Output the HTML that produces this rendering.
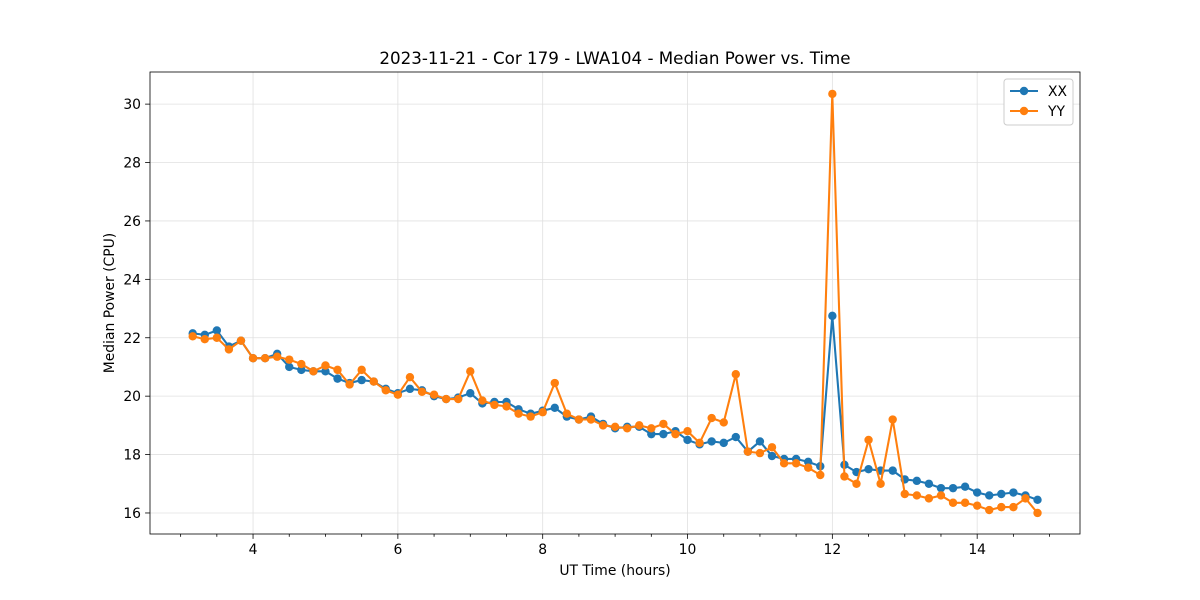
<!DOCTYPE html>
<html><head><meta charset="utf-8"><style>body{margin:0;background:#fff}svg{display:block;font-family:"DejaVu Sans","Liberation Sans",sans-serif}</style></head>
<body>
<svg id="chart" width="1200" height="600"></svg>
<script>
const times = [];
const XX = [22.15,22.1,22.25,21.7,21.9,21.3,21.3,21.45,21.0,20.9,20.85,20.85,20.6,20.45,20.55,20.5,20.25,20.1,20.25,20.2,20.0,19.9,19.95,20.1,19.75,19.8,19.8,19.55,19.4,19.5,19.6,19.3,19.2,19.3,19.05,18.9,18.95,18.95,18.7,18.7,18.8,18.5,18.35,18.45,18.4,18.6,18.1,18.45,17.95,17.85,17.85,17.75,17.6,22.75,17.65,17.4,17.5,17.45,17.45,17.15,17.1,17.0,16.85,16.85,16.9,16.7,16.6,16.65,16.7,16.6,16.45];
const YY = [22.05,21.95,22.0,21.6,21.9,21.3,21.3,21.35,21.25,21.1,20.85,21.05,20.9,20.4,20.9,20.5,20.2,20.05,20.65,20.15,20.05,19.9,19.9,20.85,19.85,19.7,19.65,19.4,19.3,19.45,20.45,19.4,19.2,19.2,19.0,18.95,18.9,19.0,18.9,19.05,18.7,18.8,18.4,19.25,19.1,20.75,18.1,18.05,18.25,17.7,17.7,17.55,17.3,30.35,17.25,17.0,18.5,17.0,19.2,16.65,16.6,16.5,16.6,16.35,16.35,16.25,16.1,16.2,16.2,16.5,16.0];
for (let i = 0; i < XX.length; i++) times.push(3.1667 + i / 6);
const xTicks = [4,6,8,10,12,14];
const yTicks = [16,18,20,22,24,26,28,30];

const L=150,R=1080,T=72,B=534;
const x0=2.577,x1=15.42,y0=15.28,y1=31.1;
const sx=v=>L+(v-x0)/(x1-x0)*(R-L);
const sy=v=>B-(v-y0)/(y1-y0)*(B-T);
const svg=document.getElementById('chart');
const NS='http://www.w3.org/2000/svg';
function mk(tag,attrs,parent){const e=document.createElementNS(NS,tag);for(const k in attrs)e.setAttribute(k,attrs[k]);(parent||svg).appendChild(e);return e;}

for(const t of xTicks){
  const g=mk('line',{x1:sx(t),x2:sx(t),y1:T,y2:B,stroke:'#e0e0e0','stroke-width':0.8});
  
  
}
for(const t of yTicks){
  const g=mk('line',{x1:L,x2:R,y1:sy(t),y2:sy(t),stroke:'#e0e0e0','stroke-width':0.8});
  
  
}
for(let m=3;m<=15;m+=0.5){
  const maj=xTicks.includes(m);
  const tk=mk('line',{x1:sx(m),x2:sx(m),y1:B,y2:B+(maj?4.9:2.8),stroke:'#000','stroke-width':0.8});
  
  
}
for(const t of xTicks){
  const tx=mk('text',{x:sx(t),y:B+20,'text-anchor':'middle','font-size':13.9});
  tx.textContent=t;
  
  
}
for(const t of yTicks){
  const tk=mk('line',{x1:L-4.9,x2:L,y1:sy(t),y2:sy(t),stroke:'#000','stroke-width':0.8});
  
  
  const tx=mk('text',{x:L-9,y:sy(t)+5,'text-anchor':'end','font-size':13.9});
  tx.textContent=t;
  
  
}
function series(vals,color,name){
  const g=mk('g',{});
  
  
  const pts=vals.map((v,i)=>sx(times[i]).toFixed(1)+','+sy(v).toFixed(1)).join(' ');
  const pl=mk('polyline',{points:pts,fill:'none',stroke:color,'stroke-width':2.08},g);
  
  
  vals.forEach((v,i)=>{
    const c=mk('circle',{cx:sx(times[i]),cy:sy(v),r:4.2,fill:color},g);
    
    
  });
}
series(XX,'#1f77b4','xx');
series(YY,'#ff7f0e','yy');
const fr=mk('rect',{x:L,y:T,width:R-L,height:B-T,fill:'none',stroke:'#000','stroke-width':0.8});


const ti=mk('text',{x:(L+R)/2,y:64,'text-anchor':'middle','font-size':16.7});
ti.textContent='2023-11-21 - Cor 179 - LWA104 - Median Power vs. Time';


const xl=mk('text',{x:(L+R)/2,y:575,'text-anchor':'middle','font-size':13.9});
xl.textContent='UT Time (hours)';


const yl=mk('text',{x:114,y:(T+B)/2,'text-anchor':'middle','font-size':13.9,transform:'rotate(-90 114 '+(T+B)/2+')'});
yl.textContent='Median Power (CPU)';


const lg=mk('g',{});


mk('rect',{x:1004,y:79,width:69,height:46,rx:3,fill:'#fff',stroke:'#ccc','stroke-width':1},lg);
[['XX','#1f77b4',91],['YY','#ff7f0e',111]].forEach(([n,c,y])=>{
  const e=mk('g',{},lg);
  
  
  mk('line',{x1:1010,x2:1038,y1:y,y2:y,stroke:c,'stroke-width':2.08},e);
  mk('circle',{cx:1024,cy:y,r:4.2,fill:c},e);
  const t=mk('text',{x:1048,y:y+5,'font-size':13.9},e);
  t.textContent=n;
});
</script>
</body></html>
